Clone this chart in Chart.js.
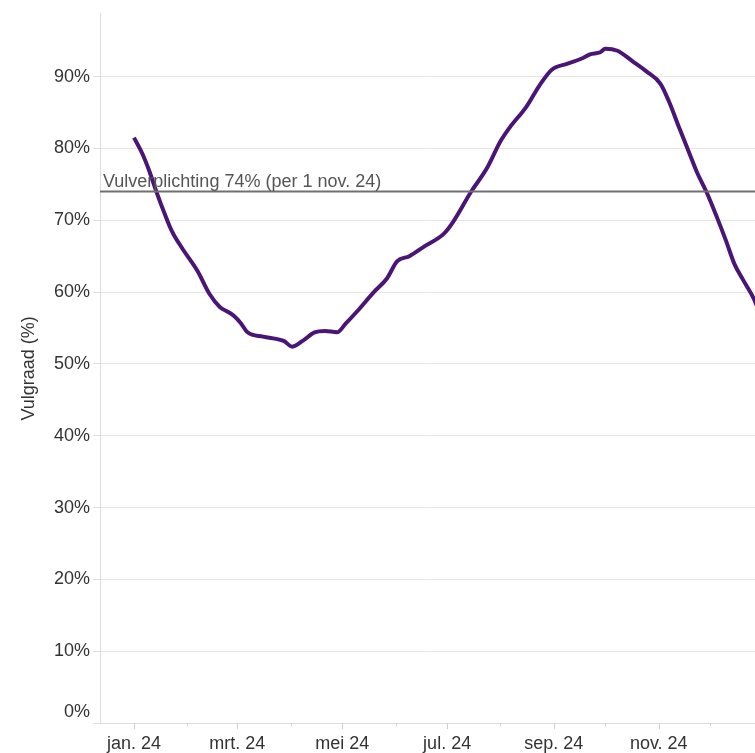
<!DOCTYPE html>
<html>
<head>
<meta charset="utf-8">
<script src="https://cdn.jsdelivr.net/npm/chart.js@4/dist/chart.umd.min.js"></script>
<style>
  html, body { margin: 0; padding: 0; background: #fff; overflow: hidden; width: 755px; height: 753px; }
  canvas { display: block; }
</style>
</head>
<body>
<canvas id="fillChart" width="765" height="753"></canvas>
<script>
// days counted from 1 jan. 2024
const days = [0, 5, 9, 13, 18, 22, 28, 37, 44, 50, 55, 58, 62, 66, 75, 87, 92, 98, 105, 111, 118, 123, 130,
  139, 147, 153, 160, 169, 180, 185, 196, 205, 213, 218, 228, 236, 243, 252, 261, 265, 271, 274, 281,
  290, 298, 306, 311, 317, 323, 327, 333, 339, 344, 349, 354, 360, 363, 366];
const fillLevel = [81.5, 79.2, 76.8, 74.0, 70.8, 68.5, 66.1, 62.9, 59.7, 57.9, 57.2, 56.7, 55.7, 54.4, 53.8, 53.2, 52.4, 53.2, 54.4, 54.6, 54.4, 55.6, 57.4,
  59.9, 61.9, 64.3, 65.0, 66.4, 68.1, 69.6, 74.0, 77.2, 81.0, 82.8, 85.8, 88.9, 91.0, 91.8, 92.6, 93.1, 93.4, 93.9, 93.6,
  92.1, 90.7, 89.0, 86.5, 82.8, 79.2, 76.8, 73.8, 70.3, 67.2, 63.9, 61.7, 59.2, 57.5, 55.7];

const monthStarts = [0, 31, 60, 91, 121, 152, 182, 213, 244, 274, 305, 335];
const monthLabels = ['jan. 24', '', 'mrt. 24', '', 'mei 24', '', 'jul. 24', '', 'sep. 24', '', 'nov. 24', ''];
const yTicks = [0, 10, 20, 30, 40, 50, 60, 70, 80, 90];

const obligation = 74;
const obligationText = 'Vulverplichting 74% (per 1 nov. 24)';

const FONT = { family: 'Liberation Sans, Arial, sans-serif', size: 18 };

// horizontal line for the filling obligation + small month ticks
const extrasPlugin = {
  id: 'extras',
  afterDatasetsDraw(chart) {
    const { ctx, chartArea, scales } = chart;
    const y = scales.y.getPixelForValue(obligation);
    ctx.save();
    ctx.strokeStyle = '#707070';
    ctx.lineWidth = 2;
    ctx.beginPath();
    ctx.moveTo(chartArea.left, y);
    ctx.lineTo(chartArea.right, y);
    ctx.stroke();
    ctx.fillStyle = '#555';
    ctx.font = '18px ' + FONT.family;
    ctx.textBaseline = 'alphabetic';
    ctx.fillText(obligationText, chartArea.left + 3, y - 5);

    ctx.strokeStyle = '#d0d0d0';
    ctx.lineWidth = 1;
    monthStarts.forEach((d, i) => {
      const x = Math.round(scales.x.getPixelForValue(d)) + 0.5;
      const len = monthLabels[i] ? 6 : 3;
      ctx.beginPath();
      ctx.moveTo(x, chartArea.bottom);
      ctx.lineTo(x, chartArea.bottom + len);
      ctx.stroke();
    });
    ctx.restore();
  }
};

new Chart(document.getElementById('fillChart'), {
  type: 'line',
  data: {
    datasets: [{
      data: days.map((d, i) => ({ x: d, y: fillLevel[i] })),
      borderColor: '#4a1676',
      borderWidth: 4,
      pointRadius: 0,
      tension: 0.3,
      cubicInterpolationMode: 'monotone',
      fill: false
    }]
  },
  options: {
    responsive: false,
    animation: false,
    layout: { padding: { top: 12, right: 3, left: 0, bottom: 0 } },
    plugins: { legend: { display: false }, tooltip: { enabled: false } },
    scales: {
      x: {
        type: 'linear',
        min: -19.76,
        max: 365,
        grid: { drawOnChartArea: false, drawTicks: false },
        border: { color: '#dcdcdc' },
        afterBuildTicks: (scale) => { scale.ticks = monthStarts.map(v => ({ value: v })); },
        afterFit: (scale) => { scale.height = 30; },
        ticks: {
          autoSkip: false,
          maxRotation: 0,
          padding: 10,
          color: '#333',
          font: FONT,
          callback: (value) => monthLabels[monthStarts.indexOf(value)] || ''
        }
      },
      y: {
        min: 0,
        max: 98.75,
        grid: { color: '#e6e6e6', tickLength: 7, tickColor: '#e0e0e0' },
        border: { color: '#dcdcdc' },
        afterBuildTicks: (scale) => { scale.ticks = yTicks.map(v => ({ value: v })); },
        afterFit: (scale) => { scale.width = 100; },
        ticks: {
          padding: 3,
          color: '#333',
          font: FONT,
          callback: (value) => value === 0 ? ['0%', ''] : value + '%'
        },
        title: {
          display: true,
          text: 'Vulgraad (%)',
          color: '#333',
          font: FONT,
          padding: { top: 18, bottom: 0 }
        }
      }
    }
  },
  plugins: [extrasPlugin]
});
</script>
</body>
</html>
